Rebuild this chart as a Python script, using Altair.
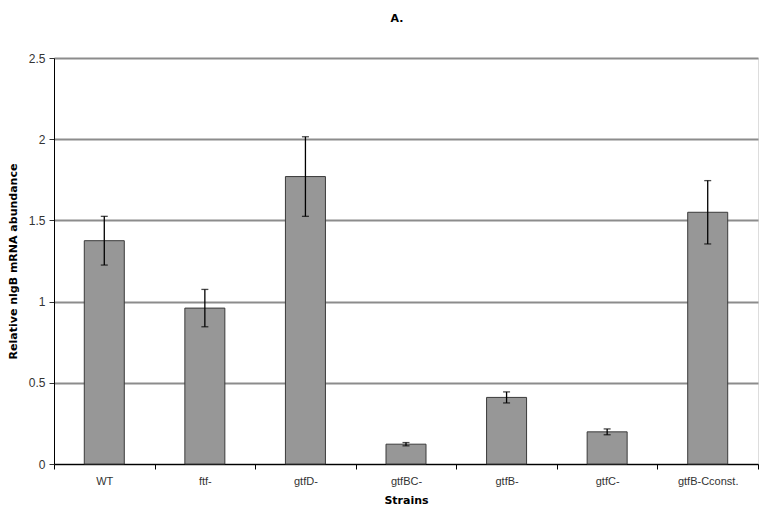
import altair as alt
import pandas as pd

strains = ["WT", "ftf-", "gtfD-", "gtfBC-", "gtfB-", "gtfC-", "gtfB-Cconst."]
values = [1.375, 0.96, 1.77, 0.122, 0.41, 0.198, 1.55]
errors = [0.15, 0.115, 0.245, 0.01, 0.034, 0.018, 0.195]

df = pd.DataFrame({
    "strain": strains,
    "value": values,
    "lo": [v - e for v, e in zip(values, errors)],
    "hi": [v + e for v, e in zip(values, errors)],
})

x = alt.X(
    "strain:N",
    sort=strains,
    scale=alt.Scale(paddingInner=0, paddingOuter=0),
    axis=alt.Axis(
        title="Strains",
        tickBand="extent",
        labelAngle=0,
        labelFont="Liberation Sans",
        labelFontSize=11,
        labelColor="#333333",
        labelPadding=6,
        titleFont="DejaVu Sans",
        titleFontSize=11,
        titleFontWeight="bold",
        titlePadding=8,
        domainColor="#000000",
        tickColor="#000000",
        tickSize=5,
        grid=False,
    ),
)

y_axis = alt.Axis(
    title="Relative nlgB mRNA abundance",
    values=[0, 0.5, 1, 1.5, 2, 2.5],
    format="~g",
    labelFont="Liberation Sans",
    labelFontSize=12,
    labelColor="#333333",
    labelPadding=4,
    titleFont="DejaVu Sans",
    titleFontSize=11,
    titleFontWeight="bold",
    titlePadding=10,
    domainColor="#000000",
    tickColor="#333333",
    tickSize=5,
    grid=True,
    gridColor="#8c8c8c",
    gridWidth=2,
)

base = alt.Chart(df)

bars = base.mark_bar(width=40, color="#979797", stroke="#3a3a3a", strokeWidth=1).encode(
    x=x,
    y=alt.Y("value:Q", scale=alt.Scale(domain=[0, 2.5], nice=False), axis=y_axis),
)

rules = base.mark_rule(color="#000000", strokeWidth=1.3).encode(
    x=alt.X("strain:N", sort=strains),
    y="lo:Q",
    y2="hi:Q",
)

caps_hi = base.mark_tick(color="#000000", size=7, thickness=1.3, orient="horizontal").encode(
    x=alt.X("strain:N", sort=strains),
    y="hi:Q",
)
caps_lo = base.mark_tick(color="#000000", size=7, thickness=1.3, orient="horizontal").encode(
    x=alt.X("strain:N", sort=strains),
    y="lo:Q",
)

chart = alt.layer(bars, rules, caps_hi, caps_lo).properties(
    width=704,
    height=406,
    title=alt.TitleParams(
        "A.", font="DejaVu Sans", fontSize=11, fontWeight="bold", color="#000000",
        offset=28, dx=-9, anchor="middle",
    ),
    autosize=alt.AutoSizeParams(type="none"),
    padding={"left": 46, "top": 50, "right": 1, "bottom": 42},
).configure_view(stroke="#b0b0b0", strokeWidth=1.5).configure(background="#ffffff")

chart.save("out.html", embed_options={"renderer": "svg", "actions": False})
